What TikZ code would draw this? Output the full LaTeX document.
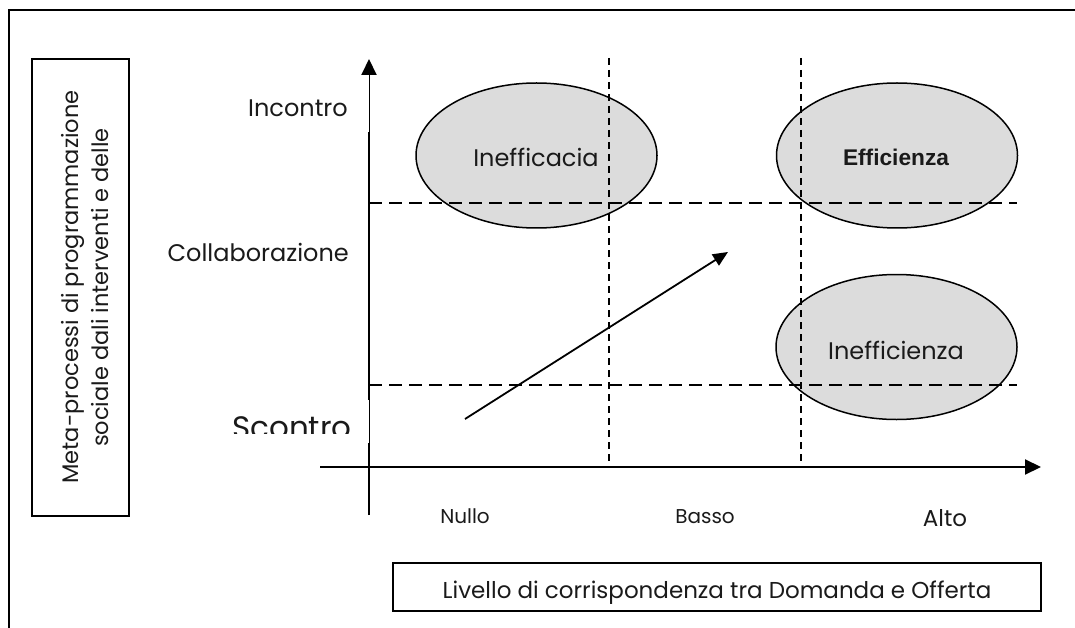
\documentclass[tikz,border=0pt]{standalone}
\usepackage{fontspec}
\setmainfont{Poppins}
\newfontfamily\boldsans{Liberation Sans}
\usetikzlibrary{arrows.meta,shapes.geometric}
\definecolor{ellgray}{HTML}{DCDCDC}
\definecolor{ink}{HTML}{1A1A1A}
\begin{document}
\begin{tikzpicture}[x=1pt,y=-1pt,
  lbl/.style={font=\fontsize{24}{28}\selectfont, inner sep=0pt, text=ink},
  smalllbl/.style={font=\fontsize{20}{24}\selectfont, inner sep=0pt, text=ink},
  frameline/.style={line width=2pt},
  axisline/.style={line width=2pt, -{Triangle[length=16pt,width=15pt]}},
  vdash/.style={line width=1.5pt, dash pattern=on 7pt off 5pt},
  hdash/.style={line width=1.5pt, dash pattern=on 13pt off 7pt},
  blob/.style={ellipse, draw, line width=1.5pt, fill=ellgray, minimum width=241pt, minimum height=145pt, inner sep=0pt},
  boxed/.style={draw, line width=2pt, inner sep=0pt}
]
\useasboundingbox (0,0) rectangle (1075,628);
% outer frame
\draw[frameline] (8.5,628) -- (8.5,10.5) -- (1075,10.5);

% left box
\node[boxed, minimum width=97pt, minimum height=457pt] (ybox) at (80.5,287.5) {};
\node[lbl, font=\fontsize{22.5}{26}\selectfont, rotate=90, anchor=base] (yl1) at (78.3,287) {Meta-processi di programmazione};
\node[lbl, font=\fontsize{22.5}{26}\selectfont, rotate=90, anchor=base] (yl2) at (108,287.5) {sociale dali interventi e delle};

% ellipses
\node[blob] (inefficacia) at (536.5,155.5) {};
\node[blob] (efficienza) at (897,155.5) {};
\node[blob] (inefficienza) at (896.5,347) {};

% coordinates for grid lines
\coordinate (v1top) at (609,58);
\coordinate (v1bot) at (609,467);
\coordinate (v2top) at (801,58);
\coordinate (v2bot) at (801,467);
\coordinate (h1l) at (369,203);
\coordinate (h1r) at (1017,203);
\coordinate (h2l) at (369,385);
\coordinate (h2r) at (1017,385);
\draw[vdash] (v1top) -- (v1bot);
\draw[vdash] (v2top) -- (v2bot);
\draw[hdash] (h1l) -- (h1r);
\draw[hdash] (h2l) -- (h2r);

% axes
\coordinate (yo) at (369,515);
\coordinate (yt) at (369,59);
\coordinate (xo) at (320,467);
\coordinate (xt) at (1041,467);
\draw[axisline] (yo) -- (yt);
\draw[axisline] (xo) -- (xt);

% white label boxes covering half of the axis
\fill[white] (300,75.5) rectangle (369,132);
\fill[white] (300,400) rectangle (369,443);

% axis labels
\node[lbl, anchor=base east] (incontro) at (348,117) {Incontro};
\node[lbl, anchor=base east] (collab) at (349,261) {Collaborazione};
\begin{scope}
  \clip (200,395) rectangle (369,433);
  \node[lbl, font=\fontsize{31}{36}\selectfont, anchor=base west] (scontro) at (232,438) {Scontro};
\end{scope}
\node[smalllbl, anchor=base] (nullo) at (465,523) {Nullo};
\node[smalllbl, anchor=base] (basso) at (705,523) {Basso};
\node[lbl, font=\fontsize{23}{27}\selectfont, anchor=base] (alto) at (945,526) {Alto};

% ellipse texts
\node[lbl, anchor=base] (t1) at (536,166.5) {Inefficacia};
\node[lbl, font=\boldsans\bfseries\fontsize{22.7}{26}\selectfont, anchor=base] (t2) at (896,165.5) {Efficienza};
\node[lbl, anchor=base] (t3) at (896,359) {Inefficienza};

% diagonal arrow
\coordinate (da) at (465,419);
\coordinate (db) at (728,252);
\draw[line width=1.8pt, -{Triangle[length=15pt,width=13pt]}] (da) -- (db);

% x-axis title box
\node[boxed, minimum width=648pt, minimum height=48pt] (xbox) at (717,587) {};
\node[lbl, font=\fontsize{23}{27}\selectfont, anchor=base] (xtitle) at (717,598) {Livello di corrispondenza tra Domanda e Offerta};
\end{tikzpicture}
\end{document}
